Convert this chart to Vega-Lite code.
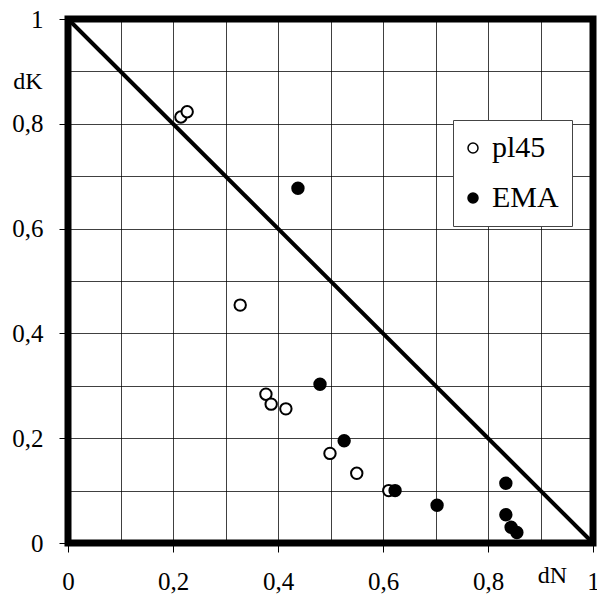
{
  "$schema": "https://vega.github.io/schema/vega-lite/v6.json",
  "width": 525,
  "height": 524,
  "autosize": "none",
  "padding": {"left": 68, "top": 19, "right": 4, "bottom": 53},
  "background": "white",
  "config": {
    "view": {"stroke": "black", "strokeWidth": 7},
    "font": "Liberation Serif",
    "axis": {"labelFont": "Liberation Serif", "titleFont": "Liberation Serif", "labelColor": "black", "titleColor": "black"},
    "legend": {"labelFont": "Liberation Serif"}
  },
  "datasets": {
    "diag": [{"dN": 0, "dK": 1}, {"dN": 1, "dK": 0}],
    "pts": [
      {"series": "pl45", "dN": 0.215, "dK": 0.813},
      {"series": "pl45", "dN": 0.227, "dK": 0.823},
      {"series": "pl45", "dN": 0.328, "dK": 0.454},
      {"series": "pl45", "dN": 0.377, "dK": 0.284},
      {"series": "pl45", "dN": 0.387, "dK": 0.265},
      {"series": "pl45", "dN": 0.415, "dK": 0.256},
      {"series": "pl45", "dN": 0.499, "dK": 0.171},
      {"series": "pl45", "dN": 0.550, "dK": 0.133},
      {"series": "pl45", "dN": 0.611, "dK": 0.100},
      {"series": "EMA", "dN": 0.438, "dK": 0.677},
      {"series": "EMA", "dN": 0.480, "dK": 0.303},
      {"series": "EMA", "dN": 0.526, "dK": 0.195},
      {"series": "EMA", "dN": 0.623, "dK": 0.100},
      {"series": "EMA", "dN": 0.703, "dK": 0.072},
      {"series": "EMA", "dN": 0.834, "dK": 0.114},
      {"series": "EMA", "dN": 0.834, "dK": 0.054},
      {"series": "EMA", "dN": 0.844, "dK": 0.030},
      {"series": "EMA", "dN": 0.855, "dK": 0.020}
    ]
  },
  "layer": [
    {
      "data": {"name": "diag"},
      "mark": {"type": "line", "color": "black", "strokeWidth": 4, "clip": false},
      "encoding": {
        "x": {"field": "dN", "type": "quantitative", "scale": {"domain": [0, 1], "nice": false, "zero": false},
          "axis": {"orient": "bottom", "values": [0,0.1,0.2,0.3,0.4,0.5,0.6,0.7,0.8,0.9,1], "grid": true, "gridColor": "black", "gridOpacity": 0.75, "gridWidth": 1, "labels": false, "ticks": false, "domain": false, "title": null}},
        "y": {"field": "dK", "type": "quantitative", "scale": {"domain": [0, 1], "nice": false, "zero": false},
          "axis": {"orient": "left", "values": [0,0.1,0.2,0.3,0.4,0.5,0.6,0.7,0.8,0.9,1], "grid": true, "gridColor": "black", "gridOpacity": 0.75, "gridWidth": 1, "labels": false, "ticks": false, "domain": false, "title": null}}
      }
    },
    {
      "data": {"name": "pts"},
      "mark": {"type": "point", "filled": true, "stroke": "black", "strokeWidth": 2, "size": 130, "opacity": 1},
      "encoding": {
        "x": {"field": "dN", "type": "quantitative",
          "axis": {"orient": "bottom", "values": [0,0.2,0.4,0.6,0.8,1], "grid": false, "domain": false, "ticks": true, "tickColor": "black", "tickSize": 9, "tickWidth": 1,
            "labelFontSize": 25, "labelPadding": 17, "labelExpr": "replace(toString(datum.value), '.', ',')", "labelFlush": false, "labelOverlap": false,
            "title": "dN", "titleFontSize": 24, "titleFontWeight": "normal", "titleX": 484, "titleY": 39, "titleAlign": "center", "titleBaseline": "alphabetic"}},
        "y": {"field": "dK", "type": "quantitative",
          "axis": {"orient": "left", "values": [0,0.2,0.4,0.6,0.8,1], "grid": false, "domain": false, "ticks": true, "tickColor": "black", "tickSize": 9, "tickWidth": 1,
            "labelFontSize": 25, "labelPadding": 16, "labelExpr": "replace(toString(datum.value), '.', ',')", "labelFlush": false, "labelOverlap": false,
            "title": "dK", "titleFontSize": 24, "titleFontWeight": "normal", "titleAngle": 0, "titleX": -26, "titleY": 69, "titleAlign": "right", "titleBaseline": "alphabetic"}},
        "fill": {"field": "series", "type": "nominal", "sort": ["pl45", "EMA"],
          "scale": {"domain": ["pl45", "EMA"], "range": ["white", "black"]},
          "legend": {"orient": "none", "legendX": 385, "legendY": 101, "title": null, "labelFontSize": 30, "labelFont": "Liberation Serif", "labelColor": "black",
            "strokeColor": "#444", "fillColor": "white", "padding": 13, "rowPadding": 20, "symbolSize": 100, "symbolStrokeColor": "black", "symbolStrokeWidth": 1.5, "symbolType": "circle", "labelOffset": 4, "symbolOffset": -8, "symbolOpacity": 1}}
      }
    }
  ],
  "resolve": {"axis": {"x": "independent", "y": "independent"}}
}
